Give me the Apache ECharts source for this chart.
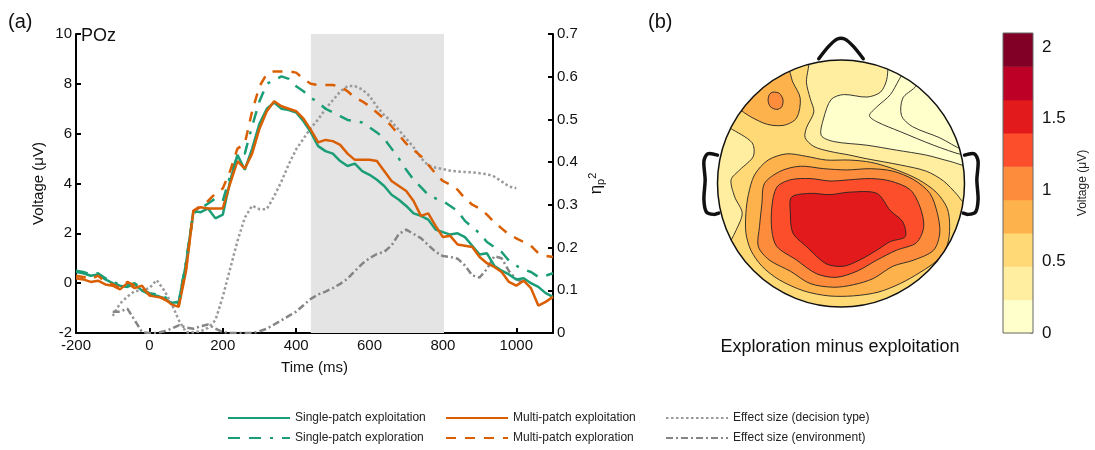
<!DOCTYPE html>
<html>
<head>
<meta charset="utf-8">
<script src="https://cdn.jsdelivr.net/npm/echarts@6/dist/echarts.min.js"></script>
<style>
  html, body { margin: 0; padding: 0; background: #fff; }
  #chart { width: 1095px; height: 450px; }
</style>
</head>
<body>
<div id="chart"></div>
<script>
// ---- panel (a): ERP at POz, sampled every 20 ms ----
const times = [
  -200, -180, -160, -140, -120, -100, -80, -60, -40, -20,
  0, 20, 40, 60, 80, 100, 120, 140, 160, 180,
  200, 220, 240, 260, 280, 300, 320, 340, 360, 380,
  400, 420, 440, 460, 480, 500, 520, 540, 560, 580,
  600, 620, 640, 660, 680, 700, 720, 740, 760, 780,
  800, 820, 840, 860, 880, 900, 920, 940, 960, 980,
  1000, 1020, 1040, 1060, 1080, 1100
];
const singleExploit = [
  0.45, 0.4, 0.3, 0.35, 0.15, 0.0, -0.1, -0.15, -0.05, -0.3,
  -0.45, -0.5, -0.6, -0.8, -0.75, 0.8, 2.9, 2.85, 3.0, 2.6,
  2.75, 4.1, 5.15, 4.55, 5.4, 6.4, 7.0, 7.25, 7.0, 6.95,
  6.85, 6.5, 6.05, 5.5, 5.3, 5.2, 4.9, 4.7, 4.8, 4.5,
  4.35, 4.15, 3.9, 3.55, 3.35, 3.1, 2.8, 2.7, 2.55, 2.15,
  2.05, 1.95, 2.0, 1.85, 1.5, 1.15, 1.2, 0.7, 0.5, 0.35,
  0.15, 0.2, 0.0, -0.15, -0.4, -0.55
];
const multiExploit = [
  0.2, 0.15, 0.05, 0.1, -0.05, -0.1, -0.25, 0.0, -0.2, -0.1,
  -0.5, -0.55, -0.6, -0.85, -0.95, 0.5, 2.9, 3.05, 3.0, 3.0,
  3.0, 4.0, 4.9, 4.6, 5.2, 6.2, 6.9, 7.3, 7.1, 7.0,
  6.9, 6.6, 6.15, 5.65, 5.75, 5.7, 5.55, 5.2, 4.95, 4.95,
  4.95, 4.9, 4.5, 4.1, 3.9, 3.7, 3.3, 2.7, 2.8, 2.3,
  1.85, 1.9, 1.55, 1.5, 1.45, 1.05, 0.8, 0.65, 0.45, 0.05,
  -0.1, 0.1, -0.2, -0.9, -0.75, -0.55
];
const singleExplore = [
  0.5, 0.45, 0.35, 0.4, 0.2, 0.05, -0.05, -0.1, 0.0, -0.25,
  -0.4, -0.45, -0.55, -0.7, -0.8, 0.9, 2.8, 3.0, 3.2, 3.4,
  3.3, 4.3, 5.1, 5.2, 6.3, 7.3, 8.0, 8.15, 8.3, 8.2,
  7.9, 7.7, 7.45, 7.25, 7.0, 6.85, 6.7, 6.55, 6.5, 6.45,
  6.25, 6.05, 5.8, 5.4, 5.0, 4.55, 4.15, 3.85, 3.55, 3.4,
  3.3, 3.1, 2.9, 2.5, 2.25, 2.0, 1.65, 1.45, 1.25, 0.9,
  0.7, 0.55, 0.45, 0.25, 0.3, 0.4
];
const multiExplore = [
  0.3, 0.25, 0.15, 0.3, 0.05, -0.05, -0.2, 0.05, -0.1, -0.2,
  -0.45, -0.5, -0.65, -0.8, -0.9, 0.6, 2.9, 3.1, 3.3, 3.6,
  3.8, 4.5, 5.4, 5.6, 6.9, 7.9, 8.4, 8.5, 8.5, 8.5,
  8.45, 8.2, 8.0, 7.95, 7.95, 7.95, 7.9, 7.7, 7.45, 7.3,
  7.1, 6.85, 6.6, 6.3, 5.95, 5.6, 5.35, 5.1, 4.75, 4.4,
  4.1, 3.95, 3.75, 3.4, 3.15, 3.0, 2.75, 2.45, 2.2, 1.95,
  1.8, 1.65, 1.5, 1.2, 1.1, 1.05
];
// partial eta squared (right axis)
const etaDecision = [
  null, null, null, null, null, 0.04, 0.069, 0.085, 0.098, 0.1,
  0.105, 0.124, 0.1, 0.07, 0.03, 0.002, 0.002, 0.004, 0.012, 0.03,
  0.085, 0.15, 0.215, 0.27, 0.298, 0.29, 0.29, 0.32, 0.355, 0.395,
  0.43, 0.455, 0.48, 0.5, 0.525, 0.545, 0.565, 0.578, 0.578, 0.57,
  0.555, 0.53, 0.51, 0.495, 0.475, 0.455, 0.435, 0.41, 0.392, 0.387,
  0.384, 0.38, 0.378, 0.377, 0.376, 0.374, 0.372, 0.366, 0.355, 0.343,
  0.339, null, null, null, null, null
];
const etaEnvironment = [
  null, null, null, null, null, 0.05, 0.05, 0.057, 0.03, 0.002,
  0.0, 0.0, 0.004, 0.01, 0.018, 0.013, 0.01, 0.016, 0.02, 0.01,
  0.002, 0.0, 0.0, 0.0, 0.0, 0.004, 0.01, 0.02, 0.03, 0.04,
  0.05, 0.065, 0.08, 0.09, 0.097, 0.105, 0.115, 0.127, 0.145, 0.162,
  0.175, 0.185, 0.19, 0.205, 0.232, 0.242, 0.232, 0.222, 0.206, 0.19,
  0.18, 0.178, 0.174, 0.158, 0.135, 0.13, 0.15, 0.18, 0.175, 0.145,
  0.126, 0.118, null, null, null, null
];
const timeTicks = [-200, 0, 200, 400, 600, 800, 1000];
const shadeWindow = [440, 803];
const shadeTop = 8.3;

// ---- panel (b): topography, head units (radius 100) ----
const levelColors = ['#ffffcc', '#ffeda0', '#fed976', '#feb24c', '#fd8d3c', '#fc4e2a', '#e31a1c', '#bd0026', '#800026'];
const levelEdges = [0, 0.2333, 0.4667, 0.7, 0.9333, 1.1667, 1.4, 1.6333, 1.8667, 2.1];
const cbarTicks = [0, 0.5, 1, 1.5, 2];
const baseLevel = 1;
const topoRegions = [
  { level: 0, pts: [[40,104],[37,84],[32,74],[21,70],[2,72],[-8,68],[-14,53],[-16,39],[-6,34],[21,31],[45,27],[69,23],[88,18],[106,14],[104,28],[91,53],[74,74],[53,91]] },
  { level: 0, pts: [[53,93],[47,84],[40,72],[29,62],[23,55],[29,50],[48,42],[75,31],[99,23],[104,24],[91,53],[74,74],[63,84]] },
  { level: 0, pts: [[64,84],[60,78],[50,69],[49,55],[58,46],[80,37],[99,27],[104,28],[91,53],[76,72]] },
  { level: 2, pts: [[-27,101],[-28,82],[-25,69],[-22,58],[-28,45],[-29,37],[-22,30],[-9,26],[7,23],[21,20],[48,15],[69,10],[83,2],[94,-9],[99,-15],[106,-16],[92,-53],[53,-92],[0,-106],[-53,-92],[-92,-53],[-89,-46],[-85,-38],[-80,-24],[-86,-11],[-89,3],[-82,11],[-71,22],[-72,33],[-90,45],[-95,48],[-75,75],[-53,92]] },
  { level: 3, pts: [[-84,63],[-63,49],[-47,47],[-36,53],[-33,69],[-39,82],[-44,94],[-61,87],[-75,75]] },
  { level: 4, pts: [[-55,74],[-50,73],[-47,68],[-48,62],[-52,60],[-57,62],[-59,67],[-58,72]] },
  { level: 3, pts: [[-75,-9],[-70,7],[-59,19],[-44,24],[-28,22],[-12,19],[7,19],[25,17],[45,11],[63,3],[77,-7],[86,-20],[88,-35],[86,-50],[78,-62],[64,-72],[48,-81],[30,-88],[10,-91],[-10,-91],[-30,-87],[-50,-78],[-64,-67],[-73,-54],[-77,-40],[-77,-24]] },
  { level: 4, pts: [[-62,0],[-49,10],[-33,14],[-14,12],[5,11],[24,12],[42,10],[59,3],[72,-8],[78,-24],[80,-40],[75,-54],[59,-62],[42,-67],[26,-77],[10,-82],[-6,-84],[-25,-81],[-41,-71],[-58,-62],[-67,-51],[-66,-35],[-64,-16]] },
  { level: 5, pts: [[-52,-3],[-41,3],[-25,4],[-9,2],[7,3],[24,4],[40,2],[56,-5],[64,-19],[67,-35],[61,-48],[45,-54],[29,-62],[13,-71],[-4,-76],[-20,-73],[-36,-62],[-52,-51],[-56,-38],[-56,-19]] },
  { level: 6, pts: [[-40,-11],[-25,-8],[-9,-9],[7,-7],[29,-8],[40,-22],[50,-31],[52,-43],[40,-47],[29,-54],[15,-62],[2,-67],[-12,-65],[-28,-51],[-39,-40],[-41,-24]] }
];
const headR = 100;
const nosePts = [[-18,101],[-10,111],[-3,117],[3,117],[10,111],[18,101]];
const leftEar = [[-100,23],[-108,24],[-111,18],[-110,3],[-111,-13],[-109,-23],[-103,-25],[-99,-24]];
const rightEar = leftEar.map(p => [-p[0], p[1]]);

const FONT = '"Liberation Sans", Arial, Helvetica, sans-serif';
const pairs = vals => times.map((t, i) => [t, vals[i]]);

function lineSeries(name, vals, color, type, yIdx, width) {
  return {
    name, type: 'line', xAxisIndex: 0, yAxisIndex: yIdx,
    data: pairs(vals), symbol: 'none', showSymbol: false, silent: true,
    lineStyle: { color, width, type }, itemStyle: { color }
  };
}

const green = '#1b9e77';
const orange = '#d95f02';
const legendBase = {
  orient: 'vertical', top: 412, itemWidth: 62, itemHeight: 12, itemGap: 8,
  padding: 0, selectedMode: false,
  itemStyle: { opacity: 0 },
  textStyle: { fontSize: 12, color: '#222', fontFamily: FONT }
};

const decisionSeries = lineSeries('Effect size (decision type)', etaDecision, '#9a9a9a', [2.5, 2.5], 1, 2.5);
decisionSeries.markArea = {
  silent: true,
  itemStyle: { color: '#e4e4e4' },
  data: [[{ xAxis: shadeWindow[0], yAxis: -2 }, { xAxis: shadeWindow[1], yAxis: shadeTop }]]
};

const option = {
  animation: false,
  textStyle: { fontFamily: FONT },
  grid: [
    { left: 76, top: 34, width: 477, height: 299 },
    { left: 680.45, top: 22.95, width: 321.1, height: 321.1 },
    { left: 1003, top: 33, width: 30, height: 300 }
  ],
  xAxis: [
    {
      gridIndex: 0, type: 'value', min: -200, max: 1100, interval: 200,
      name: 'Time (ms)', nameLocation: 'middle', nameGap: 27,
      nameTextStyle: { fontSize: 15, color: '#111' },
      axisLine: { onZero: false, lineStyle: { color: '#000', width: 2 } },
      axisTick: { inside: true, length: 5, lineStyle: { width: 2, color: '#000' }, customValues: timeTicks },
      axisLabel: { fontSize: 15, color: '#111', margin: 5, customValues: timeTicks, formatter: v => String(v) },
      splitLine: { show: false }
    },
    { gridIndex: 1, type: 'value', min: -130, max: 130, show: false },
    { gridIndex: 2, type: 'value', min: 0, max: 1, show: false }
  ],
  yAxis: [
    {
      gridIndex: 0, type: 'value', min: -2, max: 10, interval: 2, position: 'left',
      name: 'Voltage (μV)', nameLocation: 'middle', nameGap: 30, nameRotate: 90,
      nameTextStyle: { fontSize: 15, color: '#111' },
      axisLine: { show: true, onZero: false, lineStyle: { color: '#000', width: 2 } },
      axisTick: { show: true, inside: true, length: 5, lineStyle: { width: 2, color: '#000' } },
      axisLabel: { fontSize: 15, color: '#111', margin: 4 },
      splitLine: { show: false }
    },
    {
      gridIndex: 0, type: 'value', min: 0, max: 0.7, interval: 0.1, position: 'right',
      name: '{e|η}{b|p}{t|2}', nameLocation: 'middle', nameGap: 34, nameRotate: 90,
      nameTextStyle: {
        color: '#111',
        rich: {
          e: { fontSize: 17, color: '#111' },
          b: { fontSize: 11, color: '#111', verticalAlign: 'bottom', padding: [8, 0, 0, 0] },
          t: { fontSize: 11, color: '#111', verticalAlign: 'top', padding: [0, 0, 8, 0] }
        }
      },
      axisLine: { show: true, onZero: false, lineStyle: { color: '#000', width: 2 } },
      axisTick: { show: true, inside: true, length: 5, lineStyle: { width: 2, color: '#000' } },
      axisLabel: { fontSize: 15, color: '#111', margin: 4, formatter: v => (v === 0 ? '0' : v.toFixed(1)) },
      splitLine: { show: false }
    },
    { gridIndex: 1, type: 'value', min: -130, max: 130, show: false },
    {
      gridIndex: 2, type: 'value', min: 0, max: 2.1, position: 'right',
      name: 'Voltage (μV)', nameLocation: 'middle', nameGap: 44, nameRotate: 90,
      nameTextStyle: { fontSize: 12, color: '#222' },
      axisLine: { show: false, onZero: false },
      axisTick: { show: true, inside: true, length: 3, lineStyle: { color: '#555' }, customValues: cbarTicks },
      axisLabel: { fontSize: 17, color: '#111', margin: 9, customValues: cbarTicks },
      splitLine: { show: false }
    }
  ],
  legend: [
    Object.assign({ left: 227, data: ['Single-patch exploitation', 'Single-patch exploration'] }, legendBase),
    Object.assign({ left: 445, data: ['Multi-patch exploitation', 'Multi-patch exploration'] }, legendBase),
    Object.assign({ left: 665, data: ['Effect size (decision type)', 'Effect size (environment)'] }, legendBase)
  ],
  graphic: [
    { type: 'text', left: 8, top: 12, style: { text: '(a)', fontSize: 20, fontFamily: FONT, fill: '#111' } },
    { type: 'text', left: 648, top: 12, style: { text: '(b)', fontSize: 20, fontFamily: FONT, fill: '#111' } },
    { type: 'text', left: 81, top: 27, style: { text: 'POz', fontSize: 18, fontFamily: FONT, fill: '#111' } },
    { type: 'text', x: 840, y: 347, style: { text: 'Exploration minus exploitation', fontSize: 18, fontFamily: FONT, fill: '#111', align: 'center', verticalAlign: 'middle' } }
  ],
  series: [
    decisionSeries,
    lineSeries('Effect size (environment)', etaEnvironment, '#858585', [7, 3, 2, 3], 1, 2.5),
    lineSeries('Single-patch exploitation', singleExploit, green, 'solid', 0, 2.5),
    lineSeries('Multi-patch exploitation', multiExploit, orange, 'solid', 0, 2.5),
    lineSeries('Single-patch exploration', singleExplore, green, [12, 9, 12, 9, 3, 9], 0, 2.5),
    lineSeries('Multi-patch exploration', multiExplore, orange, [10, 9], 0, 2.5),
    {
      type: 'custom', xAxisIndex: 1, yAxisIndex: 2, silent: true,
      data: [[0, 0]],
      renderItem: (params, api) => {
        const c = api.coord([0, 0]);
        return { type: 'circle', shape: { cx: c[0], cy: c[1], r: api.size([106, 0])[0] }, style: { fill: levelColors[baseLevel] } };
      }
    },
    {
      type: 'custom', xAxisIndex: 1, yAxisIndex: 2, silent: true,
      data: topoRegions.map(() => [0, 0]),
      renderItem: (params, api) => {
        const reg = topoRegions[params.dataIndex];
        return {
          type: 'polygon',
          shape: { points: reg.pts.map(p => api.coord(p)), smooth: 0.3 },
          style: { fill: levelColors[reg.level], stroke: '#222', lineWidth: 0.9 }
        };
      }
    },
    {
      type: 'custom', xAxisIndex: 1, yAxisIndex: 2, silent: true,
      data: [[0, 0]],
      renderItem: (params, api) => {
        const c = api.coord([0, 0]);
        const r = api.size([headR, 0])[0];
        const pts = arr => arr.map(p => api.coord(p));
        const thick = { fill: 'none', stroke: '#111', lineWidth: 3.5, lineJoin: 'round', lineCap: 'round' };
        return {
          type: 'group',
          children: [
            { type: 'circle', shape: { cx: c[0], cy: c[1], r: r + 13 }, style: { fill: 'none', stroke: '#fff', lineWidth: 26 } },
            { type: 'circle', shape: { cx: c[0], cy: c[1], r }, style: { fill: 'none', stroke: '#111', lineWidth: 1.5 } },
            { type: 'polyline', shape: { points: pts(nosePts), smooth: 0.3 }, style: thick },
            { type: 'polyline', shape: { points: pts(leftEar), smooth: 0.3 }, style: thick },
            { type: 'polyline', shape: { points: pts(rightEar), smooth: 0.3 }, style: thick }
          ]
        };
      }
    },
    {
      type: 'custom', xAxisIndex: 2, yAxisIndex: 3, silent: true,
      data: levelColors.map((col, i) => [0, levelEdges[i], levelEdges[i + 1]]),
      encode: { x: 0, y: [1, 2] },
      renderItem: (params, api) => {
        const p0 = api.coord([0, api.value(1)]);
        const p1 = api.coord([1, api.value(2)]);
        return {
          type: 'rect',
          shape: { x: p0[0], y: p1[1], width: p1[0] - p0[0], height: p0[1] - p1[1] + 0.5 },
          style: { fill: levelColors[params.dataIndex] }
        };
      }
    },
    {
      type: 'custom', xAxisIndex: 2, yAxisIndex: 3, silent: true,
      data: [[0, 0]],
      renderItem: (params, api) => {
        const p0 = api.coord([0, levelEdges[0]]);
        const p1 = api.coord([1, levelEdges[levelEdges.length - 1]]);
        return {
          type: 'rect',
          shape: { x: p0[0], y: p1[1], width: p1[0] - p0[0], height: p0[1] - p1[1] },
          style: { fill: 'none', stroke: '#666', lineWidth: 1 }
        };
      }
    }
  ]
};

const chart = echarts.init(document.getElementById('chart'));
chart.setOption(option);
</script>
</body>
</html>
